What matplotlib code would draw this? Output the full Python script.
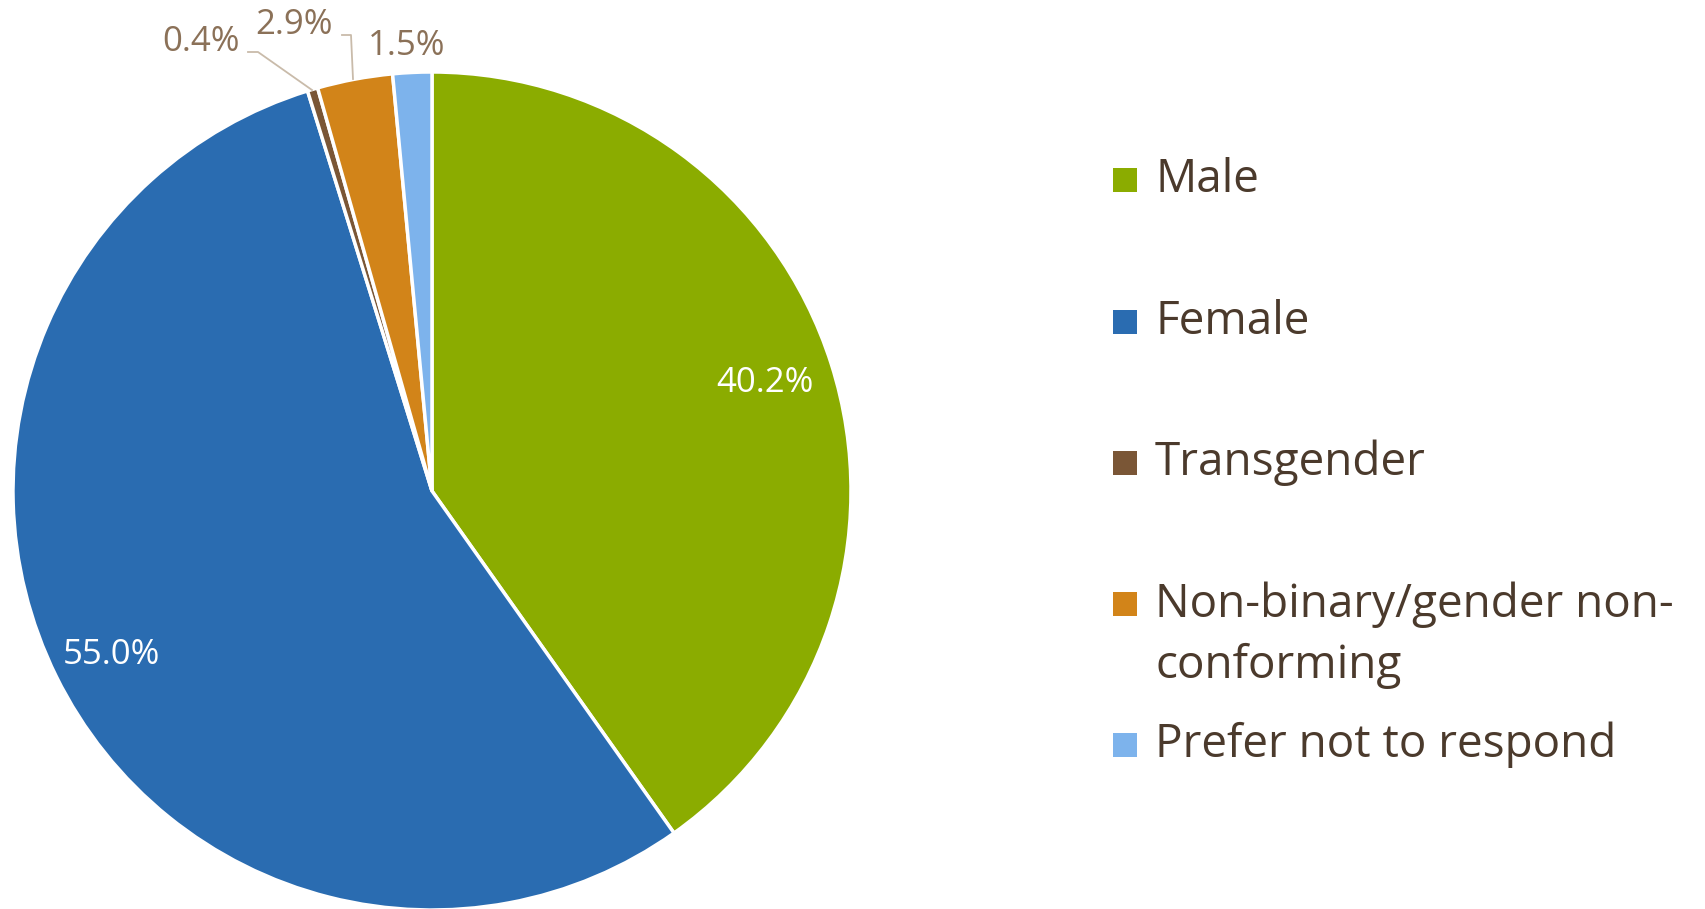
import matplotlib
matplotlib.use("Agg")
import matplotlib.pyplot as plt
from matplotlib.patches import Rectangle

categories = ["Male", "Female", "Transgender", "Non-binary/gender non-\nconforming", "Prefer not to respond"]
values = [40.2, 55.0, 0.4, 2.9, 1.5]
colors = ["#8BAC00", "#2A6CB1", "#7A5636", "#D28419", "#7DB3EC"]

W, H = 1705, 909
fig = plt.figure(figsize=(W / 100, H / 100), dpi=100)
plt.rcParams['font.family'] = ['Open Sans', 'DejaVu Sans']

cx, cy, r = 432, 491, 419
ax = fig.add_axes([(cx - r) / W, (H - cy - r) / H, 2 * r / W, 2 * r / H])

wedges, _ = ax.pie(values, colors=colors, startangle=90, counterclock=False, radius=1,
                   wedgeprops=dict(edgecolor='white', linewidth=2.5))
ax.set_xlim(-1, 1)
ax.set_ylim(-1, 1)
ax.set_aspect('equal')
ax.axis('off')

def px2data(x, y):
    return ((x - cx) / r, (cy - y) / r)

lab_fmt = ["{:.1f}%".format(v) for v in values]
fs_lab = 25
# inside labels
ax.text(*px2data(765, 383), lab_fmt[0], color='white', fontsize=fs_lab, ha='center', va='center')
ax.text(*px2data(111, 655), lab_fmt[1], color='white', fontsize=fs_lab, ha='center', va='center')
# outside labels
lc = "#8B7158"
ax.text(*px2data(201, 42), lab_fmt[2], color=lc, fontsize=fs_lab, ha='center', va='center', clip_on=False)
ax.text(*px2data(294, 25), lab_fmt[3], color=lc, fontsize=fs_lab, ha='center', va='center', clip_on=False)
ax.text(*px2data(407, 46), lab_fmt[4], color=lc, fontsize=fs_lab, ha='center', va='center', clip_on=False)
# leader lines
llc = "#C9BBAA"
xs, ys = zip(*[px2data(248, 52), px2data(258, 52), px2data(312, 90)])
ax.plot(xs, ys, color=llc, lw=1.3, clip_on=False)
xs, ys = zip(*[px2data(342, 35), px2data(351, 35), px2data(353, 79)])
ax.plot(xs, ys, color=llc, lw=1.3, clip_on=False)

# legend
tc = "#4B3A2C"
fs_leg = 33
rows_y = [180, 322, 463, 604, 745]
line_h = 62
for lab, col, y in zip(categories, colors, rows_y):
    fig.patches.append(Rectangle((1113 / W, (H - y - 12) / H), 24 / W, 24 / H,
                                 transform=fig.transFigure, facecolor=col, edgecolor='none'))
    nlines = lab.count('\n') + 1
    yc = y + (nlines - 1) * line_h / 2
    fig.text(1155 / W, (H - yc) / H, lab, color=tc, fontsize=fs_leg, ha='left', va='center',
             linespacing=1.43)

fig.savefig("out.png", dpi=100, facecolor='white')
